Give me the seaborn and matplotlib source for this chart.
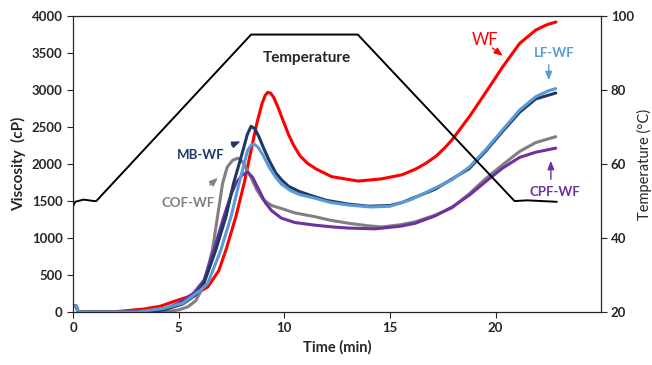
import matplotlib
matplotlib.use('Agg')
import matplotlib.pyplot as plt
import seaborn as sns

sns.set_style('white')
plt.rcParams['font.family'] = ['Lato', 'DejaVu Sans']

# viscosity curves (time in min, viscosity in cP)
t_wf = [0, 0.15, 0.25, 2, 3.33, 4.14, 4.95, 5.71, 6.38, 6.9, 7.24, 7.71, 8.1, 8.43, 8.7, 8.95, 9.1, 9.22, 9.35,
        9.5, 9.7, 9.9, 10.2, 10.45, 10.75, 11.1, 11.5, 12.24, 13.5, 14.6, 15.57, 16.2, 16.7, 17.2, 17.6, 17.95,
        18.76, 19.52, 20.33, 21.14, 21.9, 22.4, 22.86]
v_wf = [80, 80, 0, 5, 40, 80, 160, 230, 340, 560, 840, 1290, 1740, 2190, 2550, 2820, 2930, 2970, 2960,
        2900, 2770, 2620, 2400, 2250, 2110, 2010, 1935, 1830, 1770, 1800, 1855, 1930, 2010, 2110, 2220, 2330,
        2640, 2960, 3310, 3630, 3810, 3880, 3920]

t_mb = [0, 0.15, 0.25, 3, 4.3, 5.2, 5.8, 6.2, 6.76, 7.24, 7.6, 8.05, 8.25, 8.43, 8.6, 8.8, 9.0, 9.3, 9.6,
        9.86, 10.2, 10.7, 11.43, 12, 13, 14, 15, 15.57, 17.14, 18.76, 19.52, 20.33, 21.14, 21.9, 22.85]
v_mb = [80, 80, 0, 0, 30, 110, 230, 390, 840, 1290, 1740, 2190, 2400, 2510, 2480, 2370, 2230, 2040, 1880,
        1790, 1700, 1630, 1560, 1510, 1460, 1430, 1440, 1480, 1660, 1940, 2170, 2440, 2700, 2880, 2960]

t_lf = [0, 0.15, 0.25, 3, 4.3, 5.2, 6.05, 6.38, 7.0, 7.48, 7.86, 8.27, 8.45, 8.57, 8.75, 9.0, 9.3, 9.6, 9.86,
        10.3, 10.7, 11.43, 12.2, 13.05, 14.1, 15, 16, 17.14, 17.95, 18.76, 19.52, 20.33, 21.14, 21.9, 22.5, 22.85]
v_lf = [80, 80, 0, 0, 50, 120, 300, 390, 840, 1290, 1740, 2190, 2260, 2270, 2230, 2120, 1950, 1820, 1730,
        1640, 1590, 1540, 1480, 1446, 1420, 1430, 1520, 1676, 1790, 1960, 2190, 2460, 2730, 2910, 2990, 3020]

t_cof = [0, 0.15, 0.25, 4.3, 5.0, 5.43, 5.8, 6.05, 6.3, 6.6, 6.84, 7.08, 7.3, 7.55, 7.8, 8.0, 8.2, 8.43,
         8.7, 9.0, 9.4, 9.86, 10.5, 11.43, 12.2, 13.05, 14.0, 14.6, 15.5, 16.2, 17.14, 17.95, 18.76, 19.52,
         20.33, 21.14, 21.9, 22.85]
v_cof = [80, 80, 0, 0, 30, 70, 150, 280, 500, 840, 1290, 1740, 1960, 2050, 2080, 2040, 1940, 1820,
         1650, 1520, 1440, 1400, 1340, 1290, 1240, 1200, 1165, 1150, 1180, 1220, 1310, 1410, 1600, 1800,
         1990, 2170, 2290, 2370]

t_cpf = [0, 0.15, 0.25, 3, 4.3, 5.0, 5.71, 6.2, 6.67, 7.14, 7.5, 7.71, 8.0, 8.27, 8.5, 8.8, 9.1, 9.4, 9.86,
         10.5, 11.43, 12.3, 13.05, 14.3, 15.5, 16.2, 17.14, 17.95, 18.76, 19.52, 20.33, 21.14, 21.9, 22.85]
v_cpf = [80, 80, 0, 0, 40, 120, 256, 430, 840, 1290, 1600, 1740, 1850, 1890, 1820, 1650, 1480, 1370, 1270,
         1210, 1175, 1150, 1135, 1125, 1160, 1200, 1300, 1420, 1580, 1760, 1945, 2090, 2160, 2215]

# temperature profile (°C)
t_temp = [0, 0.1, 0.5, 1.0, 1.1, 8.43, 13.48, 20.9, 21.5, 22.9]
v_temp = [48.5, 49.8, 50.4, 50.0, 50.0, 95, 95, 50, 50.2, 49.8]

fig = plt.figure(figsize=(6.52, 3.65), dpi=100)
ax = fig.add_axes([0.112, 0.145, 0.81, 0.811])

series = [
    (t_wf, v_wf, '#FF0000'),
    (t_cof, v_cof, '#808080'),
    (t_cpf, v_cpf, '#7030A0'),
    (t_mb, v_mb, '#1F3864'),
    (t_lf, v_lf, '#5B9BD5'),
]
for t, v, c in series:
    sns.lineplot(x=t, y=v, ax=ax, color=c, linewidth=2.2, sort=False)

ax.set_xlim(0, 25)
ax.set_ylim(0, 4000)
ax.set_xticks([0, 5, 10, 15, 20])
ax.set_yticks(range(0, 4001, 500))
ax.set_xlabel('Time (min)', fontsize=10.5, fontweight='bold')
ax.set_ylabel('Viscosity  (cP)', fontsize=11, fontweight='bold')
ax.tick_params(axis='both', direction='out', length=4, width=0.8, labelsize=9.5, left=True, bottom=True)
for lab in ax.get_xticklabels() + ax.get_yticklabels():
    lab.set_fontweight('bold')
for s in ax.spines.values():
    s.set_color('black')
    s.set_linewidth(0.8)

ax2 = ax.twinx()
sns.lineplot(x=t_temp, y=v_temp, ax=ax2, color='black', linewidth=1.4, sort=False)
ax2.set_ylim(20, 100)
ax2.set_yticks(range(20, 101, 20))
ax2.set_ylabel('Temperature (°C)', fontsize=10.5, labelpad=2)
ax2.tick_params(axis='y', direction='out', length=4, width=0.8, pad=3, labelsize=9.5, right=True)
for lab in ax2.get_yticklabels():
    lab.set_fontweight('bold')
ax2.grid(False)

ax.text(11.05, 3430, 'Temperature', fontsize=11, fontweight='bold', ha='center', va='center')

def note(text, xy_text, xy_from, xy_to, color, size=9.5, weight='bold'):
    ax.text(xy_text[0], xy_text[1], text, color=color, fontsize=size, fontweight=weight,
            ha='center', va='center')
    ax.annotate('', xy=xy_to, xytext=xy_from,
                arrowprops=dict(arrowstyle='-|>,head_length=0.5,head_width=0.2', color=color, lw=1.0))

note('WF', (19.52, 3676), (19.75, 3590), (20.45, 3440), '#FF0000', size=12, weight='normal')
note('LF-WF', (22.76, 3500), (22.52, 3380), (22.52, 3095), '#5B9BD5')
note('CPF-WF', (22.8, 1620), (22.62, 1757), (22.62, 2081), '#7030A0')
note('MB-WF', (6.05, 2120), (7.38, 2243), (8.05, 2320), '#1F3864')
note('COF-WF', (5.43, 1473), (6.38, 1690), (6.95, 1840), '#808080')

fig.savefig('out.png', dpi=100)
